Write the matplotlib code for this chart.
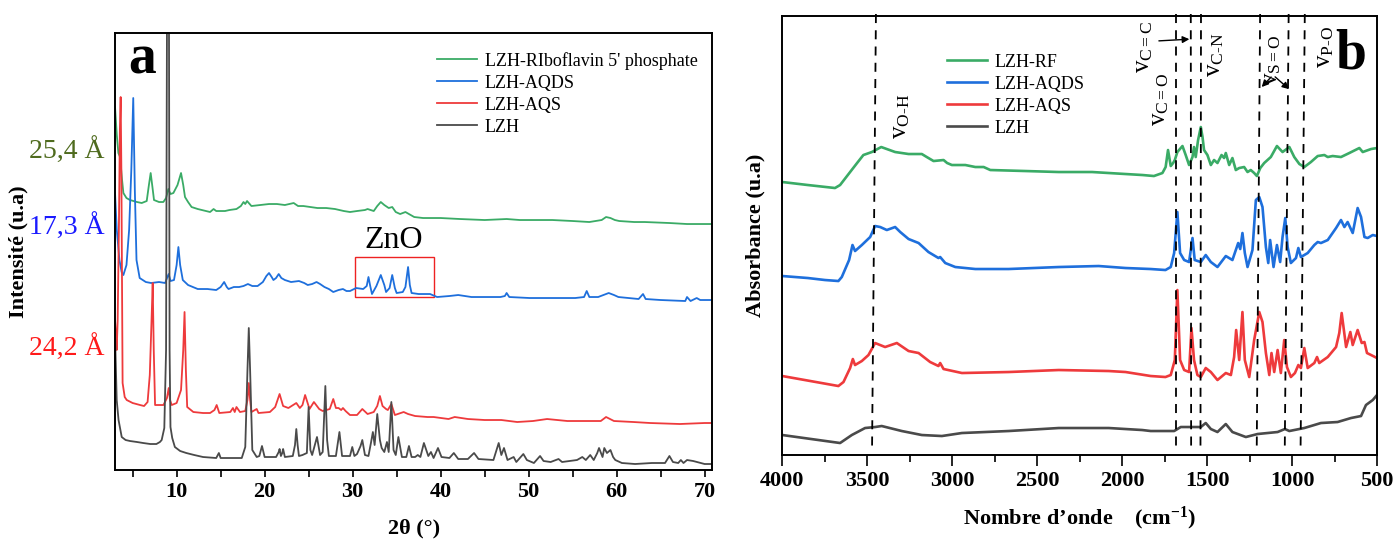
import numpy as np
import matplotlib
matplotlib.use("Agg")
import matplotlib.pyplot as plt
from matplotlib.patches import Rectangle
from matplotlib.transforms import blended_transform_factory

plt.rcParams['font.family'] = ['Liberation Serif', 'DejaVu Serif']
plt.rcParams['mathtext.fontset'] = 'custom'
plt.rcParams['mathtext.rm'] = 'Liberation Serif'
plt.rcParams['mathtext.it'] = 'Liberation Serif:italic'
plt.rcParams['mathtext.bf'] = 'Liberation Serif:bold'

# ---------------- (a) XRD, intensity in a.u. (stacked) ----------------
tt_rf = [3.0, 3.2, 3.38, 3.57, 3.8, 3.95, 4.3, 4.7, 5.5, 6.03, 6.6, 6.85, 7.05, 7.25, 7.43, 8.0,
         8.49, 8.8, 9.06, 9.3, 9.63, 10.1, 10.5, 10.75, 10.95, 11.3, 11.7, 12.4, 13.8, 14.2, 14.5,
         15.5, 16.0, 16.8, 17.3, 17.6, 17.8, 18.0, 18.5, 19.5, 20.5, 21.4, 22.3, 23.3, 23.8, 24.4,
         25.2, 26.0, 27.0, 28.0, 29.0, 29.7, 30.5, 31.4, 31.7, 32.4, 32.8, 33.2, 33.6, 34.1, 34.5,
         34.9, 35.4, 36.0, 36.2, 37.0, 38.0, 40.0, 42.2, 45.0, 47.5, 49.0, 52.7, 55.0, 56.9, 58.3,
         58.8, 59.3, 59.8, 60.3, 62.0, 63.2, 66.0, 68.0, 70.0, 70.8]
i_rf = [363, 335, 317, 313, 290, 277, 272, 270, 268, 267, 269, 285, 297, 283, 270, 268,
        268, 272, 281, 276, 277, 285, 297, 285, 273, 268, 263, 261, 258, 261, 259,
        259, 260, 261, 264, 268, 266, 269, 264, 265, 266, 266, 265, 267, 264, 264,
        263, 262, 262, 261, 259, 258, 259, 260, 261, 259, 264, 268, 265, 262, 263,
        258, 256, 258, 257, 253, 252, 252, 251, 250, 251, 250, 250, 249, 248, 250,
        253, 252, 250, 249, 248, 248, 247, 246, 246, 246]

tt_aqds = [3.0, 3.2, 3.5, 3.75, 3.95, 4.3, 4.6, 4.85, 5.07, 5.25, 5.44, 5.8, 6.5, 7.1, 8.0, 8.7,
           8.95, 9.1, 9.3, 9.7, 10.0, 10.2, 10.4, 10.7, 11.3, 12.4, 13.5, 14.5, 15.0, 15.4, 15.7,
           15.9, 16.5, 17.1, 17.6, 18.1, 18.6, 19.2, 19.8, 20.2, 20.5, 20.8, 21.0, 21.3, 21.6, 21.9,
           22.3, 23.0, 23.9, 24.5, 24.9, 25.4, 25.9, 26.3, 26.8, 27.3, 27.8, 28.4, 28.9, 29.3, 29.7,
           30.4, 31.2, 31.6, 31.8, 32.0, 32.2, 32.7, 33.2, 33.6, 33.8, 34.2, 34.5, 34.8, 35.0, 35.7,
           36.0, 36.3, 36.5, 36.7, 37.5, 38.8, 39.6, 41.0, 42.0, 43.5, 44.9, 46.8, 47.3, 47.5, 47.8,
           50.1, 53.0, 55.3, 56.3, 56.6, 56.9, 57.9, 58.5, 59.1, 59.7, 60.2, 62.5, 63.0, 63.3, 65.0,
           67.8, 68.0, 68.4, 69.1, 69.5, 70.0, 70.8]
i_aqds = [277, 240, 210, 198, 195, 205, 240, 300, 372, 280, 210, 192, 188, 187, 188, 187,
          193, 196, 189, 190, 205, 223, 205, 190, 185, 181, 181, 180, 183, 188, 183,
          181, 183, 183, 184, 186, 184, 184, 188, 194, 197, 193, 190, 192, 196, 192,
          190, 188, 189, 187, 185, 186, 188, 186, 183, 181, 178, 180, 181, 179, 179,
          182, 181, 184, 193, 184, 176, 184, 195, 185, 178, 182, 195, 182, 177, 178,
          183, 203, 185, 177, 176, 176, 173, 174, 175, 173, 173, 173, 174, 177, 173,
          172, 172, 172, 173, 179, 173, 173, 175, 177, 175, 173, 171, 176, 171, 170,
          169, 173, 169, 172, 170, 170, 170]

tt_aqs = [3.0, 3.1, 3.19, 3.3, 3.45, 3.55, 3.64, 3.72, 3.86, 4.1, 4.33, 5.0, 5.84, 6.3, 6.7, 6.95,
          7.15, 7.28, 7.4, 7.55, 8.0, 8.5, 8.9, 9.1, 9.25, 9.44, 10.0, 10.5, 10.75, 10.9, 11.05,
          11.2, 11.9, 13.0, 13.8, 14.3, 14.55, 14.85, 16.1, 16.4, 16.6, 16.8, 17.2, 17.8, 18.05,
          18.2, 18.35, 18.5, 19.1, 19.3, 20.6, 21.2, 21.7, 22.1, 22.7, 23.6, 24.0, 24.3, 24.6,
          25.1, 25.6, 26.2, 26.6, 27.4, 27.8, 28.1, 28.4, 28.7, 28.9, 29.2, 29.7, 30.5, 31.1,
          31.7, 32.4, 32.8, 33.1, 33.4, 33.8, 34.0, 34.4, 34.8, 35.8, 36.3, 37.1, 38.5, 39.2,
          40.9, 41.6, 43.1, 45.0, 46.9, 48.7, 50.5, 52.1, 54.4, 56.5, 58.2, 58.8, 59.7, 61.9,
          63.8, 67.2, 70.0, 70.8]
i_aqs = [150, 135, 120, 150, 250, 340, 373, 300, 87, 73, 70, 67, 65, 64, 68, 95,
         150, 187, 120, 65, 65, 65, 72, 82, 70, 65, 67, 80, 120, 158, 100,
         63, 58, 57, 57, 60, 65, 57, 58, 62, 58, 63, 58, 59, 70,
         87, 70, 58, 61, 57, 58, 63, 76, 64, 62, 67, 62, 65, 75,
         61, 68, 61, 59, 61, 71, 62, 62, 60, 62, 59, 55, 55, 61,
         56, 58, 64, 74, 64, 61, 60, 66, 55, 58, 56, 54, 53, 53,
         51, 53, 51, 50, 50, 48, 49, 51, 49, 49, 49, 53, 49, 48,
         47, 46, 47, 47]

tt_lzh = [3.0, 3.1, 3.19, 3.4, 3.76, 4.2, 4.7, 5.5, 6.2, 7.0, 7.7, 8.1, 8.3, 8.6, 8.8, 8.95,
          9.1, 9.2, 9.3, 9.5, 9.8, 10.4, 11.1, 12.0, 13.0, 14.5, 14.8, 15.0, 16.0, 17.0, 17.4,
          17.8, 18.05, 18.2, 18.35, 18.6, 19.1, 19.4, 19.7, 20.0, 21.3, 21.6, 21.7, 21.85, 22.0,
          22.1, 22.3, 23.2, 23.45, 23.6, 23.75, 23.9, 24.3, 24.8, 25.0, 25.2, 25.4, 25.95, 26.3,
          26.6, 26.9, 27.1, 27.3, 28.1, 28.5, 28.8, 29.7, 29.96, 30.2, 30.5, 30.9, 31.1, 31.4,
          31.8, 32.1, 32.3, 32.5, 32.8, 33.1, 33.3, 33.6, 33.9, 34.1, 34.4, 34.65, 34.9, 35.2,
          35.6, 36.1, 36.4, 36.7, 37.1, 37.4, 37.7, 38.1, 38.6, 38.9, 39.2, 39.7, 40.1, 41.0,
          41.5, 42.0, 43.1, 43.8, 44.3, 46.0, 46.6, 46.9, 47.2, 47.6, 48.3, 48.6, 49.4, 49.8,
          50.6, 51.3, 51.7, 52.5, 53.4, 53.8, 55.5, 56.1, 56.5, 57.0, 57.4, 57.8, 58.0, 58.4,
          58.6, 58.9, 59.3, 59.6, 59.85, 60.6, 62.1, 64.0, 65.5, 66.0, 66.4, 67.0, 67.3, 67.6,
          68.0, 68.7, 69.6, 70.0, 70.8]
i_lzh = [135, 100, 70, 50, 33, 30, 29, 28, 27, 26, 26, 28, 30, 42, 120, 600,
         600, 120, 43, 32, 23, 19, 17, 15, 13, 12, 17, 12, 12, 12, 12,
         23, 100, 142, 100, 20, 13, 14, 24, 13, 13, 18, 21, 14, 17,
         21, 13, 14, 25, 41, 25, 14, 15, 17, 63, 20, 15, 33, 15,
         18, 84, 30, 14, 14, 38, 14, 14, 23, 14, 16, 24, 30, 15,
         14, 28, 38, 25, 56, 30, 22, 18, 28, 18, 68, 20, 15, 33,
         13, 13, 24, 13, 13, 15, 13, 27, 14, 18, 12, 22, 13, 12,
         17, 11, 11, 17, 11, 10, 27, 15, 22, 10, 13, 8, 16, 10,
         7, 14, 9, 8, 11, 8, 10, 13, 10, 15, 10, 17, 22, 13,
         22, 17, 20, 13, 10, 7, 6, 7, 7, 14, 8, 7, 10, 7,
         10, 9, 7, 6, 6]

xrd_labels = ["LZH-RIboflavin 5' phosphate", "LZH-AQDS", "LZH-AQS", "LZH"]
d_labels = ["25,4 Å", "17,3 Å", "24,2 Å"]

# ---------------- (b) FTIR, absorbance in a.u. (stacked) ----------------
wn_rf = [4000, 3850, 3690, 3660, 3601, 3560, 3523, 3473, 3418, 3336, 3257, 3179, 3150, 3110, 3051,
         3030, 3002, 2923, 2864, 2815, 2776, 2570, 2373, 2177, 1980, 1880, 1813, 1763, 1744, 1730,
         1714, 1700, 1690, 1675, 1645, 1626, 1606, 1586, 1577, 1567, 1553, 1537, 1527, 1518, 1498,
         1478, 1459, 1439, 1415, 1400, 1390, 1370, 1351, 1331, 1311, 1282, 1262, 1243, 1223, 1207,
         1187, 1164, 1125, 1089, 1056, 1016, 987, 957, 928, 889, 849, 810, 790, 761, 712, 663, 604,
         584, 535, 500]
a_rf = [273, 270, 267, 270, 283, 292, 300, 303, 308, 303, 301, 301, 298, 294, 295,
        292, 290, 290, 288, 288, 285, 284, 283, 283, 281, 280, 279, 282, 288, 305,
        289, 292, 295, 303, 309, 300, 290, 298, 308, 298, 315, 328, 318, 305, 300,
        290, 295, 292, 300, 297, 302, 290, 297, 285, 287, 288, 283, 285, 282, 279,
        287, 292, 298, 309, 303, 308, 298, 291, 288, 293, 299, 300, 298, 299, 298, 302, 307,
        303, 306, 307]

wn_aqds = [4000, 3850, 3749, 3670, 3650, 3607, 3587, 3572, 3532, 3483, 3454, 3424, 3385, 3336, 3306,
           3257, 3198, 3140, 3081, 3071, 3041, 2982, 2864, 2668, 2373, 2138, 1980, 1832, 1745, 1714,
           1694, 1675, 1659, 1635, 1606, 1586, 1573, 1537, 1508, 1478, 1439, 1390, 1351, 1317, 1305,
           1292, 1278, 1262, 1233, 1213, 1193, 1174, 1154, 1140, 1129, 1109, 1089, 1070, 1056, 1040,
           1026, 1007, 977, 963, 948, 908, 869, 849, 830, 790, 741, 712, 692, 673, 643, 614, 594,
           574, 555, 525, 500]
a_aqds = [179, 177, 175, 174, 178, 195, 210, 204, 210, 218, 229, 228, 225, 228, 223,
          216, 212, 203, 197, 198, 192, 188, 186, 186, 188, 189, 187, 186, 185, 188,
          202, 243, 202, 195, 193, 217, 195, 193, 200, 193, 188, 199, 195, 212, 206,
          222, 202, 188, 205, 255, 258, 248, 208, 192, 215, 188, 210, 193, 218, 237,
          208, 192, 197, 207, 198, 202, 210, 213, 212, 215, 227, 235, 228, 233, 222, 247, 238,
          218, 217, 220, 219]

wn_aqs = [4000, 3670, 3640, 3601, 3585, 3572, 3532, 3493, 3454, 3395, 3326, 3257, 3198, 3130, 3081,
          3071, 3051, 2943, 2668, 2373, 2079, 1980, 1832, 1745, 1714, 1690, 1675, 1659, 1635, 1606,
          1592, 1577, 1557, 1537, 1508, 1478, 1439, 1390, 1360, 1341, 1329, 1311, 1292, 1278, 1252,
          1223, 1193, 1174, 1154, 1134, 1121, 1105, 1085, 1066, 1046, 1030, 1007, 983, 963, 948,
          928, 908, 869, 853, 840, 790, 741, 722, 708, 682, 657, 643, 614, 590, 574, 559, 535, 500]
a_aqs = [79, 69, 73, 87, 96, 90, 94, 100, 112, 108, 112, 104, 102, 93, 89,
         92, 86, 82, 83, 85, 84, 83, 79, 78, 80, 95, 165, 95, 85, 83,
         127, 95, 80, 78, 87, 83, 75, 82, 80, 98, 125, 95, 143, 95, 78,
         115, 143, 133, 102, 80, 102, 83, 105, 82, 115, 88, 78, 82, 90, 87,
         107, 87, 92, 98, 92, 98, 108, 122, 142, 108, 123, 110, 125, 112, 113, 102, 100, 97]

wn_lzh = [4000, 3660, 3591, 3513, 3454, 3415, 3297, 3179, 3061, 2943, 2668, 2373, 2079, 1882, 1832,
          1694, 1655, 1577, 1537, 1508, 1478, 1439, 1390, 1351, 1272, 1203, 1085, 1042, 1016, 928,
          830, 732, 653, 594, 565, 525, 500]
a_lzh = [20, 12, 20, 27, 28, 29, 24, 20, 19, 22, 24, 27, 27, 25, 24,
         24, 28, 28, 28, 32, 26, 23, 31, 23, 18, 21, 23, 26, 24, 27,
         32, 33, 37, 39, 50, 55, 60]

ftir_labels = ["LZH-RF", "LZH-AQDS", "LZH-AQS", "LZH"]

# band markers (top / bottom wavenumber of each dashed line)
band_top = [3449, 1681, 1596, 1536, 1188, 1020, 925]
band_bottom = [3472, 1681, 1594, 1539, 1208, 1043, 950]

c_green = "#3aab66"
c_blue = "#1e6fdc"
c_red = "#ee3a3c"
c_gray = "#4a4a4a"

fig = plt.figure(figsize=(13.96, 5.45), dpi=100)
ax1 = fig.add_axes([0.0824, 0.1376, 0.4277, 0.8018])
ax2 = fig.add_axes([0.5604, 0.1651, 0.4260, 0.8055])

tick_font = dict(family='Liberation Serif', weight='bold', size=16)

# ---- panel a ----
l_rf, = ax1.plot(tt_rf, i_rf, color=c_green, lw=1.3)
l_aqds, = ax1.plot(tt_aqds, i_aqds, color=c_blue, lw=1.3)
l_aqs, = ax1.plot(tt_aqs, i_aqs, color=c_red, lw=1.3)
l_lzh, = ax1.plot(tt_lzh, i_lzh, color=c_gray, lw=1.3)
ax1.set_xlim(3.0, 70.85)
ax1.set_ylim(0, 437)
ax1.set_yticks([])
ax1.set_xticks(range(10, 71, 10))
ax1.set_xticks(range(5, 71, 5), minor=True)
ax1.tick_params(axis='x', which='both', direction='out', length=5, width=1.2)
for lab in ax1.get_xticklabels():
    lab.set_fontproperties(tick_font)
ax1.set_xlabel("2θ (°)", fontsize=16, fontweight='bold', labelpad=12)
ax1.set_ylabel("Intensité (u.a)", fontsize=16, fontweight='bold', labelpad=62)

ax1.legend([l_rf, l_aqds, l_aqs, l_lzh], xrd_labels, loc='upper left',
           bbox_to_anchor=(0.524, 0.978), frameon=False, fontsize=13,
           handlelength=2.2, handletextpad=0.45, labelspacing=0.28, borderpad=0)

ax1.text(6.1, 397, "a", fontsize=40, fontweight='bold', ha='center', va='baseline')
ax1.text(34.7, 222, "ZnO", fontsize=23, ha='center', va='baseline')
ax1.add_patch(Rectangle((30.3, 172.7), 9.0, 40, fill=False, edgecolor='#ee2222', lw=1.0))

trans = blended_transform_factory(ax1.transAxes, ax1.transData)
for lab, yv, col in zip(d_labels, [319, 243, 122], ['#4f6b1e', '#1a1aff', '#ff1a1a']):
    ax1.text(-0.017, yv, lab, transform=trans, color=col, fontsize=20,
             ha='right', va='center')

# ---- panel b ----
m_rf, = ax2.plot(wn_rf, a_rf, color=c_green, lw=1.9)
m_aqds, = ax2.plot(wn_aqds, a_aqds, color=c_blue, lw=1.9)
m_aqs, = ax2.plot(wn_aqs, a_aqs, color=c_red, lw=1.9)
m_lzh, = ax2.plot(wn_lzh, a_lzh, color=c_gray, lw=1.9)
ax2.set_xlim(4000, 500)
ax2.set_ylim(0, 439)
ax2.set_yticks([])
ax2.set_xticks(range(4000, 499, -500))
ax2.set_xticks(range(4000, 499, -250), minor=True)
ax2.tick_params(axis='x', which='major', direction='out', length=8, width=1.2)
ax2.tick_params(axis='x', which='minor', direction='out', length=5, width=1.2)
for lab in ax2.get_xticklabels():
    lab.set_fontproperties(tick_font)
ax2.set_xlabel("Nombre d\u2019onde    (cm$^{\\mathbf{-1}}$)", fontsize=16, fontweight='bold', labelpad=10)
ax2.set_ylabel("Absorbance (u.a)", fontsize=16, fontweight='bold', labelpad=12)

for wt, wb in zip(band_top, band_bottom):
    ax2.plot([wt, wb], [441, 4], color='black', lw=1.3, ls=(0, (5, 4)), clip_on=False)

ax2.legend([m_rf, m_aqds, m_aqs, m_lzh], ftir_labels, loc='upper left',
           bbox_to_anchor=(0.262, 0.935), frameon=False, fontsize=13,
           handlelength=2.2, handletextpad=0.45, labelspacing=0.28, borderpad=0)

nu_kw = dict(fontsize=18, rotation=90, ha='center', va='center')
ax2.text(3301, 339, "v$_{\\mathrm{O\u2010H}}$", **nu_kw)
ax2.text(1776, 356, r"v$_{\mathrm{C=O}}$", **nu_kw)
ax2.text(1872, 408, r"v$_{\mathrm{C=C}}$", **nu_kw)
ax2.text(1455, 400, "v$_{\\mathrm{C\u2010N}}$", **nu_kw)
ax2.text(1119, 395, r"v$_{\mathrm{S=O}}$", **nu_kw)
ax2.text(809, 408, "v$_{\\mathrm{P\u2010O}}$", **nu_kw)
arw = dict(arrowstyle='-|>', color='black', lw=1.0, mutation_scale=10)
ax2.annotate("", xy=(1588, 416), xytext=(1800, 414), arrowprops=arw)
ax2.annotate("", xy=(1190, 366), xytext=(1112, 380), arrowprops=arw)
ax2.annotate("", xy=(1005, 364), xytext=(1112, 380), arrowprops=arw)
ax2.text(653, 387, "b", fontsize=40, fontweight='bold', ha='center', va='baseline')

for ax in (ax1, ax2):
    for sp in ax.spines.values():
        sp.set_linewidth(1.4)

fig.savefig("out.png", dpi=100)
